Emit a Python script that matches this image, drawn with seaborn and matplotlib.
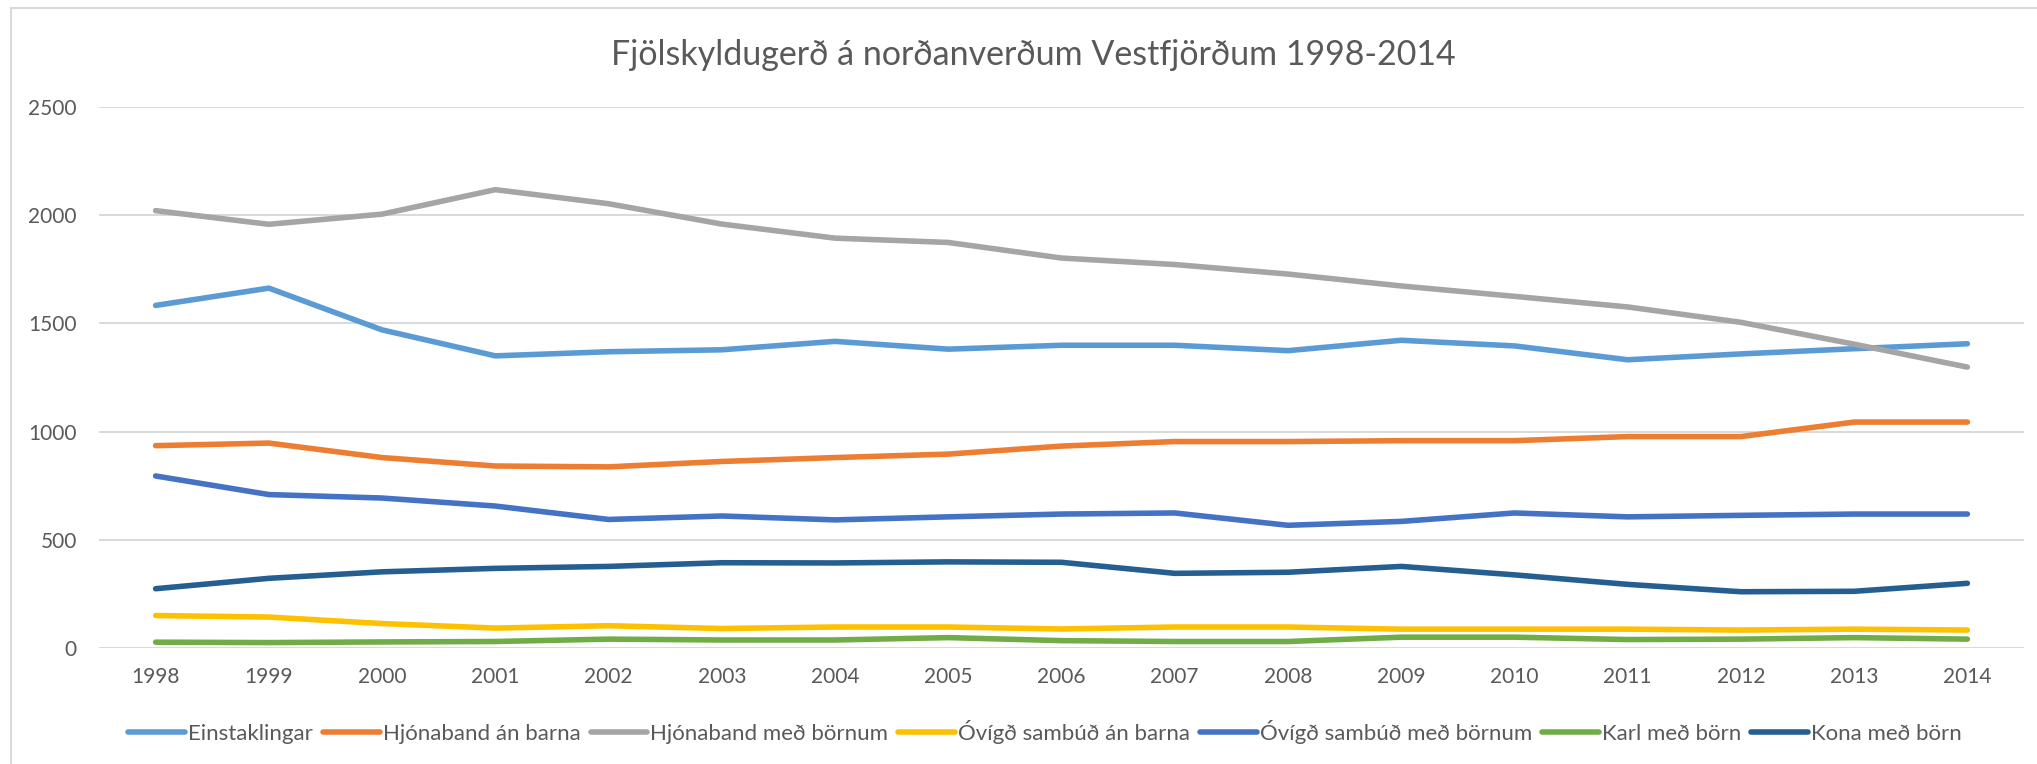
import numpy as np
import pandas as pd
import matplotlib
matplotlib.use("Agg")
import matplotlib.pyplot as plt
import seaborn as sns
from matplotlib.patches import Rectangle

# Data
years = list(range(1998, 2015))

einstaklingar = [1583, 1663, 1470, 1350, 1369, 1378, 1417, 1381, 1399, 1399, 1374, 1422, 1396, 1332, 1359, 1383, 1406]
hjonaband_an_barna = [935, 947, 880, 841, 837, 862, 880, 896, 933, 954, 954, 958, 958, 977, 977, 1044, 1044]
hjonaband_med_bornum = [2021, 1958, 2005, 2118, 2053, 1959, 1894, 1874, 1802, 1772, 1728, 1673, 1625, 1576, 1505, 1404, 1298]
ovigd_an_barna = [150, 143, 113, 92, 103, 90, 97, 97, 88, 97, 97, 87, 87, 87, 83, 87, 83]
ovigd_med_bornum = [795, 709, 693, 656, 594, 610, 592, 606, 619, 624, 567, 585, 624, 606, 613, 619, 619]
karl_med_born = [27, 25, 28, 30, 41, 37, 37, 48, 34, 30, 30, 50, 50, 39, 41, 48, 41]
kona_med_born = [274, 322, 352, 368, 377, 394, 393, 398, 396, 345, 350, 377, 338, 294, 260, 262, 299]

series_names = ["Einstaklingar", "Hjónaband án barna", "Hjónaband með börnum",
                "Óvígð sambúð án barna", "Óvígð sambúð með börnum",
                "Karl með börn", "Kona með börn"]
series_values = [einstaklingar, hjonaband_an_barna, hjonaband_med_bornum,
                 ovigd_an_barna, ovigd_med_bornum, karl_med_born, kona_med_born]
colors = ["#5B9BD5", "#ED7D31", "#A5A5A5", "#FFC000", "#4472C4", "#70AD47", "#255E91"]

title = "Fjölskyldugerð á norðanverðum Vestfjörðum 1998-2014"

# long-form table for seaborn
rows = []
for name, vals in zip(series_names, series_values):
    for y, v in zip(years, vals):
        rows.append({"Ár": y, "Fjöldi": v, "Flokkur": name})
df = pd.DataFrame(rows)

sns.set_theme(style="white")
plt.rcParams["font.family"] = ["Lato", "DejaVu Sans"]
text_color = "#595959"
grid_color = "#D9D9D9"

fig = plt.figure(figsize=(20.37, 7.64), dpi=100)
ax = fig.add_axes([99 / 2037, 1 - 648 / 764, (2024 - 99) / 2037, (648 - 107) / 764])

sns.lineplot(data=df, x="Ár", y="Fjöldi", hue="Flokkur", hue_order=series_names,
             palette=colors, linewidth=4, ax=ax, legend=True, sort=False)
for line in ax.get_lines():
    line.set_solid_capstyle("round")
    line.set_solid_joinstyle("round")

ax.set_xlim(1997.5, 2014.5)
ax.set_ylim(0, 2500)
ax.set_xticks(years)
ax.set_yticks([0, 500, 1000, 1500, 2000, 2500])
ax.set_xlabel("")
ax.set_ylabel("")
ax.grid(axis="y", color=grid_color, linewidth=1.4)
ax.grid(axis="x", visible=False)
ax.set_axisbelow(True)
for s in ax.spines.values():
    s.set_visible(False)
ax.tick_params(axis="both", length=0, labelsize=15, colors=text_color)
ax.tick_params(axis="y", pad=16)
ax.tick_params(axis="x", pad=14)

# legend below the plot
handles, labels = ax.get_legend_handles_labels()
ax.get_legend().remove()
leg = fig.legend(handles, labels, loc="center", bbox_to_anchor=(1045 / 2037, 1 - 732 / 764),
                 ncol=7, frameon=False, fontsize=16, handlelength=2.55,
                 handletextpad=0.14, columnspacing=0.45)
for t in leg.get_texts():
    t.set_color(text_color)
for h in leg.get_lines():
    h.set_linewidth(4)
    h.set_solid_capstyle("round")

fig.text(1033 / 2037, 1 - 55 / 764, title, ha="center", va="center",
         fontsize=24.5, color=text_color)

# chart area border
fig.patches.append(Rectangle((11 / 2037, -0.05), 1.1, 1.05 - 8 / 764, transform=fig.transFigure,
                             fill=False, edgecolor=grid_color, linewidth=1.5))

fig.savefig("out.png", dpi=100)
